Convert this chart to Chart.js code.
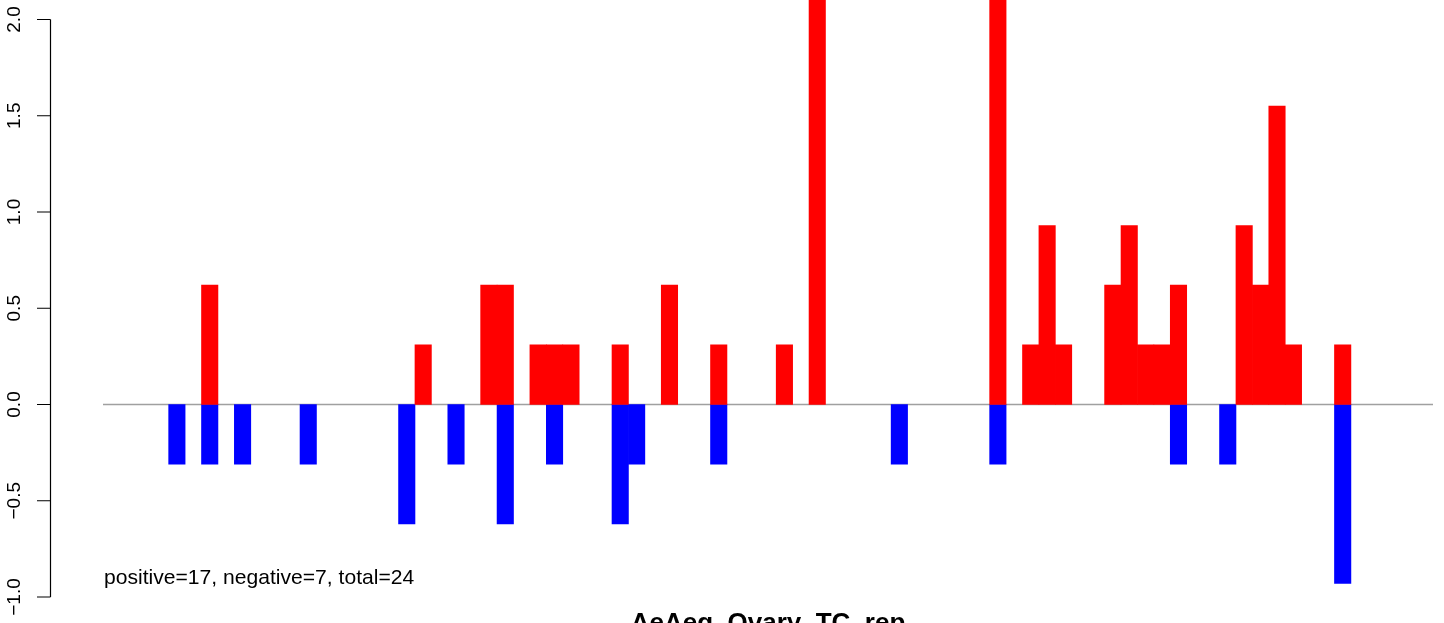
<!DOCTYPE html>
<html>
<head>
<meta charset="utf-8">
<script src="https://cdn.jsdelivr.net/npm/chart.js@4/dist/chart.umd.min.js"></script>
<style>
  html, body { margin: 0; padding: 0; background: #fff; overflow: hidden; }
  #wrap { width: 1444px; height: 623px; }
</style>
</head>
<body>
<div id="wrap"><canvas id="barChart"></canvas></div>
<script>
// 81 slots along the x axis (positions only, no labels drawn)
const slotCount = 81;

// positive bars (red): slot index and value
const posSlots  = [6, 19, 23, 24, 26, 27, 28, 31, 34, 37, 41, 43, 54, 56, 57, 58, 61, 62, 63, 64, 65, 69, 70, 71, 72, 75];
const posValues = [0.62, 0.31, 0.62, 0.62, 0.31, 0.31, 0.31, 0.31, 0.62, 0.31, 0.31, 2.5, 2.5, 0.31, 0.93, 0.31, 0.62, 0.93, 0.31, 0.31, 0.62, 0.93, 0.62, 1.55, 0.31, 0.31];

// negative bars (blue)
const negSlots  = [4, 6, 8, 12, 18, 21, 24, 27, 31, 32, 37, 48, 54, 65, 68, 75];
const negValues = [-0.31, -0.31, -0.31, -0.31, -0.62, -0.31, -0.62, -0.31, -0.62, -0.31, -0.31, -0.31, -0.31, -0.31, -0.31, -0.93];

// y axis tick labels
const yTicks = [-1.0, -0.5, 0.0, 0.5, 1.0, 1.5, 2.0];

const summaryText = 'positive=17, negative=7, total=24';
const mainTitle = 'AeAeg_Ovary_TC_rep';

// build full-length data arrays from the small lists
const labels = [];
for (let i = 0; i < slotCount; i++) labels.push(String(i));
function fill(slots, values) {
    const arr = new Array(slotCount).fill(null);
    slots.forEach(function(s, k) { arr[s] = values[k]; });
    return arr;
}

// R-style axis, zero line and texts
const rDecor = {
    id: 'rDecor',
    beforeDatasetsDraw: function(chart) {
        const ctx = chart.ctx;
        const y = chart.scales.y;
        const area = chart.chartArea;
        const y0 = y.getPixelForValue(0);
        ctx.save();
        ctx.strokeStyle = '#a0a0a0';
        ctx.lineWidth = 1.5;
        ctx.beginPath();
        ctx.moveTo(area.left, y0);
        ctx.lineTo(area.right, y0);
        ctx.stroke();
        ctx.restore();
    },
    afterDraw: function(chart) {
        const ctx = chart.ctx;
        const y = chart.scales.y;
        const axisX = 50.5;
        ctx.save();
        ctx.strokeStyle = '#000';
        ctx.lineWidth = 1.2;
        ctx.beginPath();
        ctx.moveTo(axisX, y.getPixelForValue(yTicks[0]));
        ctx.lineTo(axisX, y.getPixelForValue(yTicks[yTicks.length - 1]));
        yTicks.forEach(function(t) {
            const py = y.getPixelForValue(t);
            ctx.moveTo(axisX, py);
            ctx.lineTo(37, py);
        });
        ctx.stroke();

        ctx.fillStyle = '#000';
        ctx.font = '19px "Liberation Sans", Arial, sans-serif';
        ctx.textAlign = 'center';
        ctx.textBaseline = 'alphabetic';
        yTicks.forEach(function(t) {
            const py = y.getPixelForValue(t);
            const txt = (t < 0 ? '\u2212' : '') + Math.abs(t).toFixed(1);
            ctx.save();
            ctx.translate(20, py);
            ctx.rotate(-Math.PI / 2);
            ctx.fillText(txt, 0, 0);
            ctx.restore();
        });

        // summary text
        ctx.textAlign = 'left';
        ctx.font = '21.1px "Liberation Sans", Arial, sans-serif';
        ctx.fillText(summaryText, 104, 584);

        // main title (cut off by the bottom edge like the original)
        ctx.textAlign = 'center';
        ctx.font = 'bold 26px "Liberation Sans", Arial, sans-serif';
        ctx.fillText(mainTitle, (chart.chartArea.left + chart.chartArea.right) / 2, 631);
        ctx.restore();
    }
};

const ctx = document.getElementById('barChart').getContext('2d');
new Chart(ctx, {
    type: 'bar',
    data: {
        labels: labels,
        datasets: [{
            label: 'positive',
            data: fill(posSlots, posValues),
            backgroundColor: '#ff0000',
            borderWidth: 0,
            grouped: false,
            barPercentage: 1,
            categoryPercentage: 1
        }, {
            label: 'negative',
            data: fill(negSlots, negValues),
            backgroundColor: '#0000ff',
            borderWidth: 0,
            grouped: false,
            barPercentage: 1,
            categoryPercentage: 1
        }]
    },
    options: {
        responsive: true,
        maintainAspectRatio: false,
        animation: false,
        layout: {
            padding: { left: 103, right: 11, top: 0, bottom: 0 }
        },
        scales: {
            x: { display: false },
            y: {
                display: false,
                min: -1.1351,
                max: 2.1013
            }
        },
        plugins: {
            legend: { display: false },
            tooltip: { enabled: false },
            title: { display: false }
        }
    },
    plugins: [rDecor]
});
</script>
</body>
</html>
